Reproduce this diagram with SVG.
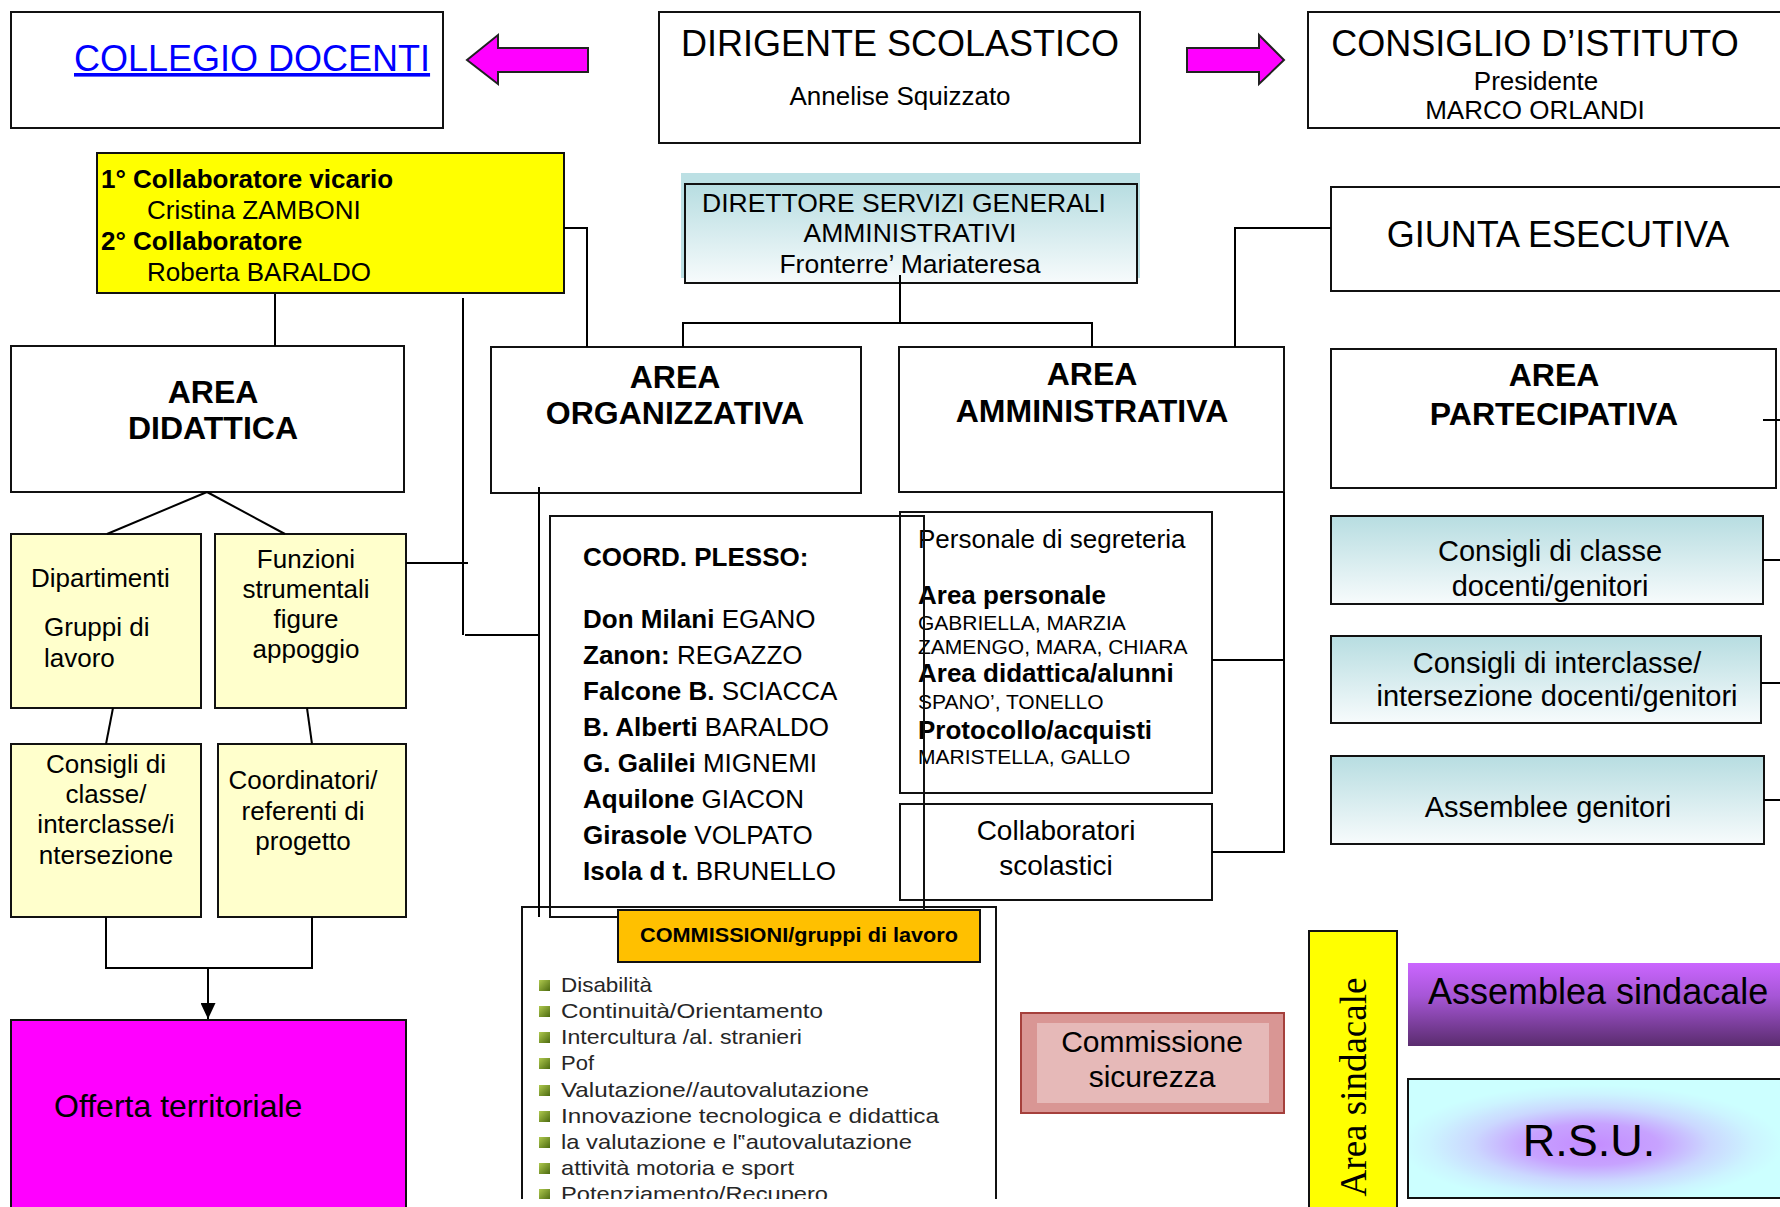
<svg xmlns="http://www.w3.org/2000/svg" width="1780" height="1207" viewBox="0 0 1780 1207">
<style>
.box{fill:#fff;stroke:#111;stroke-width:2}
.nf{fill:none;stroke:#111;stroke-width:2}
.ylw{fill:#FFFFCC;stroke:#111;stroke-width:2}
.blu{fill:url(#gBlue);stroke:#111;stroke-width:2}
.t{font-family:"Liberation Sans",Arial,Helvetica,sans-serif;fill:#000}
.b{font-weight:bold}
.c{text-anchor:middle}
.ln{fill:none;stroke:#000;stroke-width:2}
.li{font-family:"Liberation Sans",Arial,sans-serif;font-size:21px;fill:#262626}
.bul{fill:url(#gBullet)}
</style>
<defs>
<linearGradient id="gBlue" x1="0" y1="0" x2="0" y2="1">
<stop offset="0" stop-color="#B7DDE1"/><stop offset="1" stop-color="#F7FBFC"/>
</linearGradient>
<linearGradient id="gPurple" x1="0" y1="0" x2="0" y2="1">
<stop offset="0" stop-color="#CB66FF"/><stop offset="0.4" stop-color="#A656D6"/><stop offset="1" stop-color="#5A2C6E"/>
</linearGradient>
<radialGradient id="gRsu" cx="0.48" cy="0.55" r="0.5">
<stop offset="0" stop-color="#C48CFF"/><stop offset="0.35" stop-color="#C7A2FF"/><stop offset="0.62" stop-color="#CBD8FF"/><stop offset="0.85" stop-color="#CCF4FF"/><stop offset="1" stop-color="#CCFFFF"/>
</radialGradient>
<linearGradient id="gBullet" x1="0" y1="0" x2="1" y2="1">
<stop offset="0" stop-color="#AFC94E"/><stop offset="1" stop-color="#4C6A10"/>
</linearGradient>
<clipPath id="clipPage"><rect x="0" y="0" width="1780" height="1199"/></clipPath>
<marker id="arrow" viewBox="0 0 16 15" refX="16" refY="7.5" markerWidth="16" markerHeight="15" markerUnits="userSpaceOnUse" orient="auto">
<path d="M0,0 L16,7.5 L0,15 z" fill="#000"/>
</marker>
</defs>
<rect width="1780" height="1207" fill="#fff"/>

<g id="collegio">
<rect class="box" x="11" y="12" width="432" height="116"/>
<text class="t" x="74" y="71" font-size="36" style="fill:#0000FF;text-decoration:underline">COLLEGIO DOCENTI</text>
</g>
<g id="arrow-left">
<polygon points="588,48 498,48 498,35 467,60 498,84 498,72 588,72" fill="#FF00FF" stroke="#222" stroke-width="2"/>
</g>
<g id="dirigente">
<rect class="box" x="659" y="12" width="481" height="131"/>
<text class="t c" x="900" y="56" font-size="36">DIRIGENTE SCOLASTICO</text>
<text class="t c" x="900" y="105" font-size="26">Annelise Squizzato</text>
</g>
<g id="arrow-right">
<polygon points="1187,48 1259,48 1259,35 1284,60 1259,84 1259,72 1187,72" fill="#FF00FF" stroke="#222" stroke-width="2"/>
</g>
<g id="consiglio">
<rect class="box" x="1308" y="12" width="500" height="116"/>
<text class="t c" x="1535" y="56" font-size="36">CONSIGLIO D’ISTITUTO</text>
<text class="t c" x="1536" y="90" font-size="26">Presidente</text>
<text class="t c" x="1535" y="119" font-size="26">MARCO ORLANDI</text>
</g>
<g id="collaboratori-ds">
<rect x="97" y="153" width="467" height="140" fill="#FFFF00" stroke="#111" stroke-width="2"/>
<text class="t b" x="101" y="188" font-size="26">1° Collaboratore vicario</text>
<text class="t" x="147" y="219" font-size="26">Cristina ZAMBONI</text>
<text class="t b" x="101" y="250" font-size="26">2° Collaboratore</text>
<text class="t" x="147" y="281" font-size="26">Roberta BARALDO</text>
</g>
<g id="dsga">
<rect x="681" y="173" width="459" height="105" fill="#BCE0E4"/>
<rect class="blu" x="685" y="184" width="452" height="99"/>
<text class="t c" x="904" y="212" font-size="26.5">DIRETTORE SERVIZI GENERALI</text>
<text class="t c" x="910" y="242" font-size="26.5">AMMINISTRATIVI</text>
<text class="t c" x="910" y="273" font-size="26.5">Fronterre’ Mariateresa</text>
</g>
<g id="giunta">
<rect class="box" x="1331" y="187" width="500" height="104"/>
<text class="t c" x="1558" y="247" font-size="36">GIUNTA ESECUTIVA</text>
</g>

<g id="area-didattica">
<rect class="box" x="11" y="346" width="393" height="146"/>
<text class="t b c" x="213" y="403" font-size="32">AREA</text>
<text class="t b c" x="213" y="439" font-size="32">DIDATTICA</text>
</g>
<g id="area-organizzativa">
<rect class="box" x="491" y="347" width="370" height="146"/>
<text class="t b c" x="675" y="388" font-size="32">AREA</text>
<text class="t b c" x="675" y="424" font-size="32">ORGANIZZATIVA</text>
</g>
<g id="area-amministrativa">
<rect class="box" x="899" y="347" width="385" height="145"/>
<text class="t b c" x="1092" y="385" font-size="32">AREA</text>
<text class="t b c" x="1092" y="422" font-size="32">AMMINISTRATIVA</text>
</g>
<g id="area-partecipativa">
<rect class="box" x="1331" y="349" width="445" height="139"/>
<text class="t b c" x="1554" y="386" font-size="32">AREA</text>
<text class="t b c" x="1554" y="425" font-size="32">PARTECIPATIVA</text>
</g>

<g id="dipartimenti">
<rect class="ylw" x="11" y="534" width="190" height="174"/>
<text class="t" x="31" y="587" font-size="26">Dipartimenti</text>
<text class="t" x="44" y="636" font-size="26">Gruppi di</text>
<text class="t" x="44" y="667" font-size="26">lavoro</text>
</g>
<g id="funzioni">
<rect class="ylw" x="215" y="534" width="191" height="174"/>
<text class="t c" x="306" y="568" font-size="26">Funzioni</text>
<text class="t c" x="306" y="598" font-size="26">strumentali</text>
<text class="t c" x="306" y="628" font-size="26">figure</text>
<text class="t c" x="306" y="658" font-size="26">appoggio</text>
</g>
<g id="consigli-classe-did">
<rect class="ylw" x="11" y="744" width="190" height="173"/>
<text class="t c" x="106" y="773" font-size="26">Consigli di</text>
<text class="t c" x="106" y="803" font-size="26">classe/</text>
<text class="t c" x="106" y="833" font-size="26">interclasse/i</text>
<text class="t c" x="106" y="864" font-size="26">ntersezione</text>
</g>
<g id="coordinatori">
<rect class="ylw" x="218" y="744" width="188" height="173"/>
<text class="t c" x="303" y="789" font-size="26">Coordinatori/</text>
<text class="t c" x="303" y="820" font-size="26">referenti di</text>
<text class="t c" x="303" y="850" font-size="26">progetto</text>
</g>
<g id="offerta">
<rect x="11" y="1020" width="395" height="200" fill="#FF00FF" stroke="#111" stroke-width="2"/>
<text class="t" x="54" y="1117" font-size="32">Offerta territoriale</text>
</g>

<g id="segreteria">
<rect class="box" x="900" y="512" width="312" height="281"/>
<text class="t" x="918" y="548" font-size="26">Personale di segreteria</text>
<text class="t b" x="918" y="604" font-size="26">Area personale</text>
<text class="t" x="918" y="630" font-size="21">GABRIELLA, MARZIA</text>
<text class="t" x="918" y="654" font-size="21">ZAMENGO, MARA, CHIARA</text>
<text class="t b" x="918" y="682" font-size="26">Area didattica/alunni</text>
<text class="t" x="918" y="709" font-size="21">SPANO’, TONELLO</text>
<text class="t b" x="918" y="739" font-size="26">Protocollo/acquisti</text>
<text class="t" x="918" y="764" font-size="21">MARISTELLA, GALLO</text>
</g>
<g id="collaboratori-scolastici">
<rect class="box" x="900" y="804" width="312" height="96"/>
<text class="t c" x="1056" y="840" font-size="28">Collaboratori</text>
<text class="t c" x="1056" y="875" font-size="28">scolastici</text>
</g>
<g id="coord-plesso">
<rect class="nf" x="550" y="516" width="374" height="401"/>
<text class="t b" x="583" y="566" font-size="26">COORD. PLESSO:</text>
<text class="t" x="583" y="628" font-size="26"><tspan class="b">Don Milani</tspan> EGANO</text>
<text class="t" x="583" y="664" font-size="26"><tspan class="b">Zanon:</tspan> REGAZZO</text>
<text class="t" x="583" y="700" font-size="26"><tspan class="b">Falcone B.</tspan> SCIACCA</text>
<text class="t" x="583" y="736" font-size="26"><tspan class="b">B. Alberti</tspan> BARALDO</text>
<text class="t" x="583" y="772" font-size="26"><tspan class="b">G. Galilei</tspan> MIGNEMI</text>
<text class="t" x="583" y="808" font-size="26"><tspan class="b">Aquilone</tspan> GIACON</text>
<text class="t" x="583" y="844" font-size="26"><tspan class="b">Girasole</tspan> VOLPATO</text>
<text class="t" x="583" y="880" font-size="26"><tspan class="b">Isola d t.</tspan> BRUNELLO</text>
</g>
<g id="commissioni" clip-path="url(#clipPage)">
<rect class="nf" x="522" y="907" width="474" height="400"/>
<rect x="618" y="910" width="362" height="52" fill="#FFC000" stroke="#111" stroke-width="2"/>
<text class="t b c" x="799" y="942" font-size="21" textLength="318" lengthAdjust="spacingAndGlyphs">COMMISSIONI/gruppi di lavoro</text>
<rect class="bul" x="539" y="980" width="11" height="11"/>
<text class="li" x="561" y="992" textLength="91" lengthAdjust="spacingAndGlyphs">Disabilità</text>
<rect class="bul" x="539" y="1006" width="11" height="11"/>
<text class="li" x="561" y="1018" textLength="262" lengthAdjust="spacingAndGlyphs">Continuità/Orientamento</text>
<rect class="bul" x="539" y="1032" width="11" height="11"/>
<text class="li" x="561" y="1044" textLength="241" lengthAdjust="spacingAndGlyphs">Intercultura /al. stranieri</text>
<rect class="bul" x="539" y="1058" width="11" height="11"/>
<text class="li" x="561" y="1070" textLength="33" lengthAdjust="spacingAndGlyphs">Pof</text>
<rect class="bul" x="539" y="1085" width="11" height="11"/>
<text class="li" x="561" y="1097" textLength="308" lengthAdjust="spacingAndGlyphs">Valutazione//autovalutazione</text>
<rect class="bul" x="539" y="1111" width="11" height="11"/>
<text class="li" x="561" y="1123" textLength="378" lengthAdjust="spacingAndGlyphs">Innovazione tecnologica e didattica</text>
<rect class="bul" x="539" y="1137" width="11" height="11"/>
<text class="li" x="561" y="1149" textLength="351" lengthAdjust="spacingAndGlyphs">la valutazione e l‟autovalutazione</text>
<rect class="bul" x="539" y="1163" width="11" height="11"/>
<text class="li" x="561" y="1175" textLength="233" lengthAdjust="spacingAndGlyphs">attività motoria e sport</text>
<rect class="bul" x="539" y="1189" width="11" height="11"/>
<text class="li" x="561" y="1201" textLength="267" lengthAdjust="spacingAndGlyphs">Potenziamento/Recupero</text>
</g>

<g id="consigli-classe">
<rect class="blu" x="1331" y="516" width="432" height="88"/>
<text class="t c" x="1550" y="561" font-size="29">Consigli di classe</text>
<text class="t c" x="1550" y="596" font-size="29">docenti/genitori</text>
</g>
<g id="consigli-interclasse">
<rect class="blu" x="1331" y="636" width="430" height="87"/>
<text class="t c" x="1557" y="673" font-size="29">Consigli di interclasse/</text>
<text class="t c" x="1557" y="706" font-size="29">intersezione docenti/genitori</text>
</g>
<g id="assemblee-genitori">
<rect class="blu" x="1331" y="756" width="433" height="88"/>
<text class="t c" x="1548" y="817" font-size="29">Assemblee genitori</text>
</g>

<g id="commissione-sicurezza">
<rect x="1021" y="1013" width="263" height="100" fill="#D99694" stroke="#A5403C" stroke-width="2"/>
<rect x="1037" y="1023" width="232" height="80" fill="#E6B9B8"/>
<text class="t c" x="1152" y="1052" font-size="30">Commissione</text>
<text class="t c" x="1152" y="1087" font-size="30">sicurezza</text>
</g>
<g id="area-sindacale">
<rect x="1309" y="931" width="88" height="300" fill="#FFFF00" stroke="#111" stroke-width="2"/>
<text transform="translate(1366,1087) rotate(-90)" text-anchor="middle" font-family="'Liberation Serif','Times New Roman',serif" font-size="37" fill="#000">Area sindacale</text>
</g>
<g id="assemblea-sindacale">
<rect x="1408" y="963" width="400" height="83" fill="url(#gPurple)"/>
<text class="t" x="1428" y="1004" font-size="36">Assemblea sindacale</text>
</g>
<g id="rsu">
<rect x="1408" y="1079" width="382" height="119" fill="url(#gRsu)" stroke="#111" stroke-width="2"/>
<text class="t c" x="1589" y="1156" font-size="45">R.S.U.</text>
</g>

<g id="connectors">
<path class="ln" d="M564,228 H587 V347"/>
<path class="ln" d="M275,294 V346"/>
<path class="ln" d="M463,298 V635"/>
<path class="ln" d="M465,635 H539"/>
<path class="ln" d="M539,487 V917"/>
<path class="ln" d="M406,563 H468"/>
<path class="ln" d="M207,492 L107,534"/>
<path class="ln" d="M207,492 L285,534"/>
<path class="ln" d="M113,708 L106,744"/>
<path class="ln" d="M307,708 L312,744"/>
<path class="ln" d="M106,917 V968 H312 V917"/>
<path class="ln" d="M208,968 V1019" marker-end="url(#arrow)"/>
<path class="ln" d="M900,275 V323"/>
<path class="ln" d="M683,347 V323 H1092 V347"/>
<path class="ln" d="M1331,228 H1235 V347"/>
<path class="ln" d="M1284,492 V852 H1212"/>
<path class="ln" d="M1212,660 H1284"/>
<path class="ln" d="M1763,420 H1780"/>
<path class="ln" d="M1763,560 H1780"/>
<path class="ln" d="M1761,683 H1780"/>
<path class="ln" d="M1764,800 H1780"/>
</g>
</svg>
